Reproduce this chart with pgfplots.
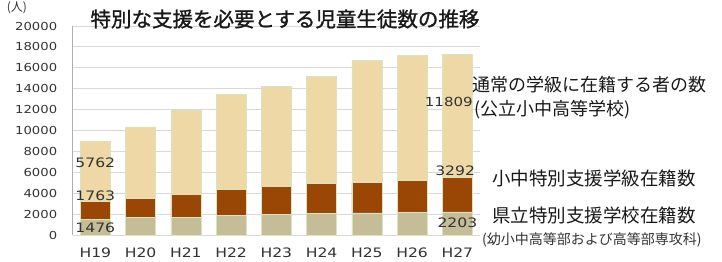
\documentclass[border=0pt]{standalone}
\usepackage{fontspec}
\setmainfont{DejaVu Sans}
\newfontfamily\numfont[FakeStretch=1.2]{DejaVu Sans}
\newfontfamily\cjk{Noto Sans CJK JP}
\newfontfamily\cjkb[FakeBold=1.2]{Noto Sans CJK JP}
\usepackage{pgfplots}
\pgfplotsset{compat=1.18}
\definecolor{cbot}{HTML}{C4BD97}
\definecolor{cmid}{HTML}{9A4705}
\definecolor{ctop}{HTML}{EED9A6}
\definecolor{cedge}{HTML}{D7E4BD}
\definecolor{cgrid}{HTML}{D9D9D9}
\definecolor{ctxt}{HTML}{333333}
\begin{document}
\begin{tikzpicture}
\begin{axis}[
  at={(0,0)}, anchor=south west,
  scale only axis, width=407.3pt, height=209pt,
  ybar stacked, bar width=30pt,
  xmin=-0.5, xmax=8.5, ymin=0, ymax=20000,
  xtick={0,...,8},
  xticklabels={H19,H20,H21,H22,H23,H24,H25,H26,H27},
  ytick={0,2000,...,20000},
  scaled y ticks=false,
  /pgf/number format/assume math mode=true,
  /pgf/number format/set thousands separator={},
  ymajorgrids, grid style={cgrid, line width=0.8pt},
  axis x line*=bottom, axis y line*=left,
  x axis line style={cgrid, line width=0.8pt},
  y axis line style={draw=cgrid!80!black, line width=0.8pt},
  major tick length=0pt,
  yticklabel style={font=\numfont\fontsize{11}{11}\selectfont, text=ctxt, xshift=-12pt},
  xticklabel style={font=\numfont\fontsize{13}{13}\selectfont, text=ctxt, yshift=-9pt},
  clip=false,
]
\addplot[fill=cbot, draw=cedge, line width=0.6pt] coordinates {(0,1476) (1,1650) (2,1690) (3,1840) (4,1990) (5,2080) (6,2110) (7,2170) (8,2203)};
\addplot[fill=cmid, draw=cedge, line width=0.6pt] coordinates {(0,1763) (1,1850) (2,2210) (3,2510) (4,2680) (5,2820) (6,2890) (7,3070) (8,3292)};
\addplot[fill=ctop, draw=cedge, line width=0.6pt] coordinates {(0,5762) (1,6850) (2,8000) (3,9150) (4,9530) (5,10250) (6,11700) (7,11960) (8,11809)};
\coordinate (l1) at (axis cs:0,6890);
\coordinate (l2) at (axis cs:0,3730);
\coordinate (l3) at (axis cs:0,670);
\coordinate (l4) at (axis cs:8,12750);
\coordinate (l5) at (axis cs:7.95,6120);
\coordinate (l6) at (axis cs:8,1150);
\end{axis}
\tikzset{dl/.style={font=\numfont\fontsize{13}{13}\selectfont, text=ctxt}}
\node[dl] at (l1) {5762};
\node[dl] at (l2) {1763};
\node[dl] at (l3) {1476};
\node[dl, font=\numfont\fontsize{12.5}{12.5}\selectfont, anchor=east, inner sep=0pt] at ([xshift=15.5pt]l4) {11809};
\node[dl] at (l5) {3292};
\node[dl] at (l6) {2203};
\node[font=\cjkb\fontsize{20.5}{20.5}\selectfont, text=black!90] at (212.3pt,216pt) {特別な支援を必要とする児童生徒数の推移};
\node[font=\cjk\fontsize{12}{12}\selectfont, text=ctxt] at (-55.7pt,227pt) {(人)};
\node[font=\cjk\fontsize{18}{18}\selectfont, text=black!90, anchor=west, inner sep=0pt] at (399.3pt,150pt) {通常の学級に在籍する者の数};
\node[font=\cjk\fontsize{18}{18}\selectfont, text=black!90, anchor=west, inner sep=0pt] at (401.5pt,125pt) {(公立小中高等学校)};
\node[font=\cjk\fontsize{18.5}{18.5}\selectfont, text=black!90, anchor=west, inner sep=0pt] at (419.3pt,57pt) {小中特別支援学級在籍数};
\node[font=\cjk\fontsize{18.5}{18.5}\selectfont, text=black!90, anchor=west, inner sep=0pt] at (419.3pt,20pt) {県立特別支援学校在籍数};
\node[font=\cjk\fontsize{14}{14}\selectfont, text=ctxt, anchor=west, inner sep=0pt] at (409.3pt,-5pt) {(幼小中高等部および高等部専攻科)};
\pgfresetboundingbox
\path[use as bounding box] (-72.7pt,-27pt) rectangle (649.3pt,235pt);
\end{tikzpicture}
\end{document}
